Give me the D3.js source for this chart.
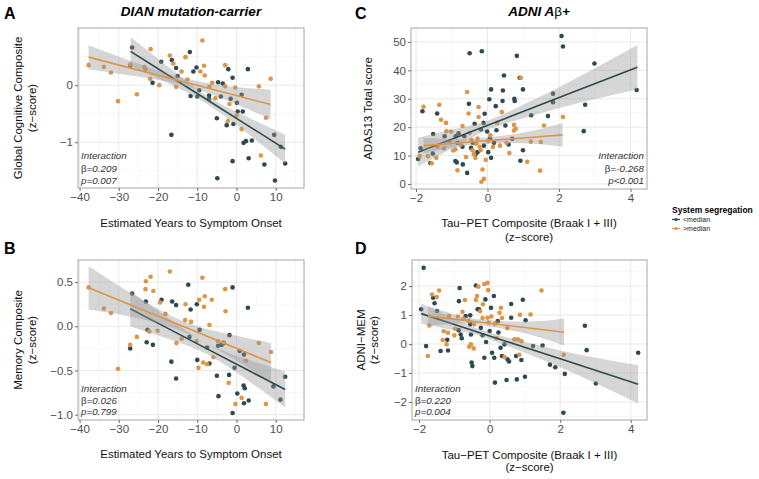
<!DOCTYPE html>
<html><head><meta charset="utf-8">
<script src="https://cdn.jsdelivr.net/npm/d3@7"></script>
<style>
body{margin:0;background:#fff;}
svg{display:block;font-family:"Liberation Sans",Arial,Helvetica,sans-serif;}
</style></head>
<body>
<svg id="chart" width="759" height="479"></svg>
<script>
// ---------- data ----------
const groupNames = ["<median", ">median"];
const legendTitle = "System segregation";

// Panel A: DIAN, Global Cognitive Composite vs EYO
const dianGlobalLow = [[-26.6,0.66],[-27.1,0.34],[-19.2,0.41],[-21.4,0.04],[-16.5,0.44],[-15.4,0.30],[-11.9,0.58],[-11.0,0.24],[-10.2,0.31],[-15.0,0.16],[-16.6,-0.87],[-11.7,-0.19],[-10.0,-0.20],[-9.5,-0.09],[-7.0,-0.18],[-7.0,-0.24],[-4.7,0.05],[-3.5,0.03],[-4.0,-0.20],[-2.1,0.28],[-1.0,0.13],[0.1,-0.31],[1.3,-0.17],[0.3,-0.46],[2.9,0.28],[-5.0,-0.58],[-2.5,-0.70],[-0.8,-0.68],[1.6,-0.46],[1.8,-1.01],[2.4,-0.98],[3.9,-0.97],[-1.0,-1.33],[3.1,-1.28],[7.1,-1.39],[9.6,-0.87],[11.3,-1.08],[12.4,-1.37],[-4.9,-1.63],[9.8,-1.67],[-1.5,-0.24]];
const dianGlobalHigh = [[-37.7,0.35],[-33.8,0.32],[-32.0,0.22],[-30.2,-0.28],[-25.4,-0.16],[-21.9,0.63],[-27.1,0.36],[-23.2,0.28],[-22.0,0.11],[-19.7,0.0],[-17.0,0.52],[-16.1,0.38],[-14.0,0.24],[-13.0,0.49],[-15.4,-0.03],[-8.7,0.78],[-8.3,0.34],[-9.2,0.24],[-8.1,0.17],[-6.2,0.04],[-6.9,-0.03],[-2.9,0.35],[-2.9,-0.02],[-0.3,-0.04],[-1.8,-0.33],[-2.2,-0.63],[1.3,-0.77],[0.0,-0.53],[5.7,-0.02],[8.7,0.11],[7.5,-0.57],[6.2,-1.23],[-5.4,-0.23],[-23.5,0.32],[-12.5,0.10]];
// fit rows: [x, fit, lower, upper]
const dianGlobalLowFit = [[-27,0.59,0.34,0.84],[-17,0.156,0.02,0.30],[-7.5,-0.256,-0.33,-0.19],[2.5,-0.69,-0.83,-0.55],[12.4,-1.12,-1.37,-0.87]];
const dianGlobalHighFit = [[-37.7,0.49,0.28,0.70],[-26,0.28,0.16,0.40],[-15,0.084,0.02,0.15],[-3,-0.13,-0.25,-0.01],[8.7,-0.34,-0.60,-0.08]];

// Panel B: DIAN, Memory Composite vs EYO
const dianMemLow = [[-27.1,-0.25],[-26.6,0.37],[-23.1,0.28],[-22.7,-0.04],[-22.9,-0.18],[-21.3,-0.21],[-19.1,0.30],[-16.4,0.28],[-15.4,0.24],[-12.3,0.47],[-11.7,0.19],[-10.1,0.25],[-16.6,-0.40],[-15.4,-0.59],[-9.4,-0.04],[-10.0,-0.38],[-6.9,-0.42],[-4.7,-0.22],[-3.8,-0.21],[-3.2,-0.19],[-1.8,-0.10],[-1.0,0.44],[0.8,-0.28],[-0.5,-0.47],[1.9,-0.32],[2.9,0.21],[-5.0,-0.56],[-4.6,-0.79],[-1.9,-0.55],[0.2,-0.76],[1.8,-0.67],[2.1,-0.70],[1.9,-0.87],[3.1,-0.84],[-1.0,-0.98],[9.4,-0.68],[11.2,-0.83],[12.4,-0.57],[-12.0,-0.12],[-7.5,-0.24]];
const dianMemHigh = [[-37.7,0.44],[-33.8,0.20],[-32.0,0.15],[-30.2,-0.48],[-27.1,-0.21],[-25.4,-0.12],[-23.1,0.51],[-23.2,0.42],[-21.9,0.56],[-21.2,0.40],[-19.5,0.27],[-18.1,0.14],[-17.0,0.62],[-15.3,-0.19],[-14.0,-0.14],[-13.0,0.25],[-13.1,0.07],[-11.6,0.05],[-10.2,-0.17],[-9.7,-0.47],[-9.5,0.30],[-8.7,0.55],[-8.3,0.22],[-8.1,0.34],[-6.9,0.015],[-6.3,0.30],[-5.9,-0.35],[-8.5,-0.41],[-4.7,-0.17],[-2.9,0.42],[-2.8,0.17],[-3.3,-0.18],[-2.0,-0.64],[-0.3,-0.88],[1.3,-0.81],[2.4,-0.39],[5.7,-0.19],[8.8,-0.29],[7.5,-0.88],[-20.1,-0.05],[-22.2,-0.06],[-7.5,-0.43]];
const dianMemLowFit = [[-27.1,0.198,0.0,0.40],[-17,-0.035,-0.15,0.08],[-7.5,-0.255,-0.315,-0.195],[2.5,-0.486,-0.60,-0.37],[12.4,-0.715,-0.92,-0.51]];
const dianMemHighFit = [[-37.7,0.436,0.19,0.68],[-26,0.223,0.10,0.35],[-14,0.005,-0.055,0.065],[-3,-0.195,-0.31,-0.08],[8.8,-0.41,-0.63,-0.19]];

// Panel C: ADNI, ADAS13 vs Tau-PET
const adniAdasLow = [[-1.94,8.8],[-1.87,12.6],[-1.82,25.6],[-1.60,7.4],[-1.53,10.7],[-1.52,17.6],[-1.41,24.8],[-1.20,16.8],[-0.90,8.1],[-0.86,7.6],[-0.69,6.9],[-0.81,17.8],[-0.84,14.5],[-0.70,13.1],[-0.57,3.9],[-0.52,28.2],[-0.50,46.0],[-0.16,46.7],[-0.46,12.7],[-0.36,21.2],[-0.28,11.2],[-0.18,19.2],[-0.11,21.5],[-0.10,13.5],[-0.01,18.5],[0.02,11.2],[0.07,16.0],[0.10,33.3],[0.10,9.2],[0.05,29.8],[0.23,27.4],[0.25,18.9],[0.43,32.9],[0.42,29.2],[0.46,38.2],[0.50,20.6],[0.59,13.9],[0.69,15.9],[0.75,30.0],[0.76,29.2],[0.82,45.1],[0.90,37.4],[0.99,33.3],[0.99,11.9],[0.92,8.2],[1.22,24.2],[1.69,23.9],[1.83,31.8],[1.83,28.8],[2.07,52.1],[2.11,48.4],[2.69,18.6],[2.73,27.9],[2.99,42.4],[4.17,33.1],[-0.41,14.5],[-0.08,24.7],[-0.33,10.6],[-0.65,16.8],[0.18,14.5],[-0.89,16.8]];
const adniAdasHigh = [[-1.79,27.2],[-1.90,9.8],[-1.67,9.8],[-1.56,7.3],[-1.43,9.2],[-1.35,27.9],[-1.30,22.6],[-1.22,12.5],[-1.16,21.5],[-1.15,18.6],[-1.02,18.5],[-0.96,11.8],[-0.84,4.8],[-0.70,20.4],[-0.57,32.4],[-0.53,24.8],[-0.50,18.0],[-0.42,11.9],[-0.38,10.5],[-0.34,9.2],[-0.32,14.2],[-0.25,27.1],[-0.25,23.6],[-0.22,13.1],[-0.19,11.9],[-0.17,0.8],[-0.10,1.8],[-0.14,5.1],[0.02,15.1],[0.08,17.1],[0.27,21.5],[0.40,25.3],[0.53,14.5],[0.61,10.9],[0.74,20.8],[0.74,18.8],[0.79,19.4],[0.93,37.4],[1.11,7.8],[1.21,14.9],[1.47,4.7],[1.49,14.8],[1.58,20.6],[2.11,23.6],[-1.05,15.0],[-0.75,13.8],[-0.6,9.5],[-0.45,15.5],[-0.28,16.0],[0.15,13.0],[0.35,13.5],[-0.9,12.2],[-1.4,13.2],[-0.05,8.5]];
const adniAdasLowFit = [[-1.94,11.2,6.2,16.3],[-0.5,18.2,15.8,20.6],[0.3,22.1,20.4,23.8],[2.2,31.4,27.4,35.4],[4.19,41.1,33.3,48.9]];
const adniAdasHighFit = [[-1.79,13.5,10.8,16.2],[-0.9,14.4,12.9,15.9],[-0.2,15.1,14.0,16.2],[1.0,16.2,14.3,18.1],[2.10,17.3,13.1,21.5]];

// Panel D: ADNI, ADNI-MEM vs Tau-PET
const adniMemLow = [[-1.87,2.63],[-1.94,1.20],[-1.80,-0.07],[-1.60,1.60],[-1.56,1.41],[-1.49,1.14],[-1.39,-0.24],[-1.18,-0.22],[-0.87,1.48],[-0.85,1.93],[-0.88,0.48],[-0.82,0.33],[-0.79,0.20],[-0.68,0.97],[-0.55,0.99],[-0.55,0.68],[-0.53,0.33],[-0.51,-0.64],[-0.49,-0.76],[-0.39,2.02],[-0.34,1.20],[-0.30,1.20],[-0.25,0.56],[-0.12,1.54],[-0.10,0.07],[-0.15,-0.47],[0.04,1.25],[0.12,1.66],[0.07,-0.30],[0.15,-1.33],[0.13,-0.47],[0.23,0.79],[0.31,-0.13],[0.35,-0.41],[0.42,-0.01],[0.48,-1.24],[0.51,-0.53],[0.61,1.38],[0.61,0.91],[0.75,-0.41],[0.77,-1.22],[0.94,1.53],[1.00,-1.13],[1.02,0.82],[1.23,-0.07],[1.71,-0.71],[1.86,-0.80],[2.13,-1.03],[2.09,-2.37],[2.70,0.63],[2.75,-0.21],[3.01,-1.36],[4.21,-0.30],[-0.2,0.30],[0.0,0.45],[0.25,0.40],[0.55,-0.60],[0.9,-0.55],[1.5,-0.05],[-1.2,0.15]];
const adniMemHigh = [[-1.75,-0.41],[-1.71,0.64],[-1.63,1.71],[-1.50,1.62],[-1.43,1.85],[-1.33,0.14],[-1.30,0.44],[-1.22,-0.01],[-1.18,0.39],[-1.15,0.97],[-0.98,0.53],[-0.77,1.11],[-0.74,0.87],[-0.70,1.52],[-0.58,-0.09],[-0.53,-0.01],[-0.44,0.68],[-0.39,1.52],[-0.36,1.66],[-0.32,1.98],[-0.27,1.13],[-0.19,1.37],[-0.15,2.07],[-0.06,2.11],[-0.04,1.86],[-0.06,0.91],[-0.03,0.74],[0.15,0.70],[0.28,1.08],[0.32,1.25],[0.42,-0.45],[0.70,0.16],[0.80,0.16],[0.86,1.01],[0.84,-0.37],[1.16,1.02],[1.47,1.85],[2.10,-0.37],[-0.6,0.80],[-0.9,0.95],[-0.2,0.9],[0.05,0.95],[0.5,0.55],[-0.45,-0.15],[0.2,0.2],[-1.0,0.3],[0.35,0.9],[0.9,0.1]];
const adniMemLowFit = [[-1.94,1.05,0.70,1.40],[-0.8,0.60,0.43,0.77],[0,0.28,0.16,0.40],[2,-0.51,-0.80,-0.22],[4.21,-1.39,-2.05,-0.73]];
const adniMemHighFit = [[-1.75,0.97,0.63,1.31],[-1.0,0.86,0.70,1.02],[-0.3,0.76,0.66,0.86],[1.0,0.57,0.37,0.77],[2.11,0.41,-0.06,0.88]];

// tick labels
const eyoTicks = [-40,-30,-20,-10,0,10];
const tauTicks = [-2,0,2,4];
const globalTicks = [-1,0];
const memTicks = [-1.0,-0.5,0.0,0.5];
const adasTicks = [0,10,20,30,40,50];
const adniMemTicks = [-2,-1,0,1,2];

// ---------- styling / layout ----------
const COL_LOW = "#2f4a4f", COL_HIGH = "#de9546";
const svg = d3.select("#chart");

const panels = [
  {letter:"A", lx:4, ly:19, box:[78,304,28,188], xd:[-40.4,17.2], yd:[-1.80,1.0],
   xt:eyoTicks, yt:globalTicks, xminor:[-35,-25,-15,-5,5,15], yminor:[-1.5,-0.5,0.5], yfmt:d3.format("d"),
   low:dianGlobalLow, high:dianGlobalHigh, lowFit:dianGlobalLowFit, highFit:dianGlobalHighFit,
   ytitle:["Global Cognitive Composite","(z−score)"], ytx:[22,36], xtitle:["Estimated Years to Symptom Onset"], xty:[227],
   stats:["Interaction","0.209","p=0.007"], statsX:81, statsAnchor:"start", statsY:[159,171.5,183.5]},
  {letter:"B", lx:4, ly:254, box:[78,304,260,420], xd:[-40.4,17.2], yd:[-1.06,0.75],
   xt:eyoTicks, yt:memTicks, xminor:[-35,-25,-15,-5,5,15], yminor:[-0.75,-0.25,0.25], yfmt:d3.format(".1f"),
   low:dianMemLow, high:dianMemHigh, lowFit:dianMemLowFit, highFit:dianMemHighFit,
   ytitle:["Memory Composite","(z−score)"], ytx:[22,36], xtitle:["Estimated Years to Symptom Onset"], xty:[458],
   stats:["Interaction","0.026","p=0.799"], statsX:81, statsAnchor:"start", statsY:[392,404,415]},
  {letter:"C", lx:355, ly:19, box:[411,647,28,189], xd:[-2.14,4.46], yd:[-1.76,54.9],
   xt:tauTicks, yt:adasTicks, xminor:[-1,1,3], yminor:[5,15,25,35,45], yfmt:d3.format("d"),
   low:adniAdasLow, high:adniAdasHigh, lowFit:adniAdasLowFit, highFit:adniAdasHighFit,
   ytitle:["ADAS13 Total score"], ytx:[372], xtitle:["Tau−PET Composite (Braak I + III)","(z−score)"], xty:[227,241],
   stats:["Interaction","-0.268","p<0.001"], statsX:644, statsAnchor:"end", statsY:[159,171.5,183.5]},
  {letter:"D", lx:355, ly:254, box:[412,647,260,420], xd:[-2.2,4.46], yd:[-2.62,2.9],
   xt:tauTicks, yt:adniMemTicks, xminor:[-1,1,3], yminor:[-2.5,-1.5,-0.5,0.5,1.5,2.5], yfmt:d3.format("d"),
   low:adniMemLow, high:adniMemHigh, lowFit:adniMemLowFit, highFit:adniMemHighFit,
   ytitle:["ADNI−MEM","(z−score)"], ytx:[365,378], xtitle:["Tau−PET Composite (Braak I + III)","(z−score)"], xty:[459,471],
   stats:["Interaction","0.220","p=0.004"], statsX:415, statsAnchor:"start", statsY:[392,404,415]}
];

panels.forEach(p => {
  const [x0,x1,y0,y1] = p.box;
  const x = d3.scaleLinear().domain(p.xd).range([x0,x1]);
  const y = d3.scaleLinear().domain(p.yd).range([y1,y0]);
  const g = svg.append("g");
  const clipId = "clip"+p.letter;
  svg.append("clipPath").attr("id",clipId).append("rect").attr("x",x0).attr("y",y0).attr("width",x1-x0).attr("height",y1-y0);

  // grid
  const grid = g.append("g");
  p.xminor.forEach(v => { if (v>p.xd[0] && v<p.xd[1]) grid.append("line").attr("x1",x(v)).attr("x2",x(v)).attr("y1",y0).attr("y2",y1).attr("stroke","#f0f0f0").attr("stroke-width",0.5); });
  p.yminor.forEach(v => { if (v>p.yd[0] && v<p.yd[1]) grid.append("line").attr("y1",y(v)).attr("y2",y(v)).attr("x1",x0).attr("x2",x1).attr("stroke","#f0f0f0").attr("stroke-width",0.5); });
  p.xt.forEach(v => grid.append("line").attr("x1",x(v)).attr("x2",x(v)).attr("y1",y0).attr("y2",y1).attr("stroke","#e6e6e6").attr("stroke-width",0.9));
  p.yt.forEach(v => grid.append("line").attr("y1",y(v)).attr("y2",y(v)).attr("x1",x0).attr("x2",x1).attr("stroke","#e6e6e6").attr("stroke-width",0.9));

  const plot = g.append("g").attr("clip-path",`url(#${clipId})`);
  // points
  [[p.low,COL_LOW],[p.high,COL_HIGH]].forEach(([data,col]) => {
    plot.selectAll(null).data(data).enter().append("circle")
      .attr("cx",d=>x(d[0])).attr("cy",d=>y(d[1])).attr("r",2.3).attr("fill",col);
  });
  // ribbons + lines
  const area = d3.area().x(d=>x(d[0])).y0(d=>y(d[2])).y1(d=>y(d[3])).curve(d3.curveNatural);
  const line = d3.line().x(d=>x(d[0])).y(d=>y(d[1]));
  [[p.lowFit,COL_LOW],[p.highFit,COL_HIGH]].forEach(([fit,col]) => {
    plot.append("path").attr("d",area(fit)).attr("fill","#999999").attr("fill-opacity",0.4);
    plot.append("path").attr("d",line(fit)).attr("fill","none").attr("stroke",col).attr("stroke-width",1.6);
  });

  // border
  g.append("rect").attr("x",x0).attr("y",y0).attr("width",x1-x0).attr("height",y1-y0)
    .attr("fill","none").attr("stroke","#a6a6a6").attr("stroke-width",1);

  // axes
  const ax = g.append("g").attr("transform",`translate(0,${y1})`)
    .call(d3.axisBottom(x).tickValues(p.xt).tickSize(3).tickPadding(2).tickFormat(d3.format("d")));
  const ay = g.append("g").attr("transform",`translate(${x0},0)`)
    .call(d3.axisLeft(y).tickValues(p.yt).tickSize(3).tickPadding(2).tickFormat(p.yfmt));
  [ax,ay].forEach(a => {
    a.select(".domain").remove();
    a.selectAll(".tick line").attr("stroke","#4d4d4d").attr("stroke-width",0.8);
    a.selectAll(".tick text").attr("fill","#4d4d4d").attr("font-size",11.5)
      .attr("font-family","'Liberation Sans',Arial,sans-serif");
  });

  // panel letter
  svg.append("text").attr("x",p.lx).attr("y",p.ly).text(p.letter)
    .attr("font-size",16).attr("font-weight","bold").attr("fill","#000");

  // axis titles
  const cy = (y0+y1)/2, cx = (x0+x1)/2;
  p.ytitle.forEach((t,i) => {
    svg.append("text").attr("transform",`translate(${p.ytx[i]},${cy}) rotate(-90)`)
      .attr("text-anchor","middle").attr("font-size",11.5).attr("fill","#111").text(t);
  });
  p.xtitle.forEach((t,i) => {
    svg.append("text").attr("x",cx).attr("y",p.xty[i]).attr("text-anchor","middle")
      .attr("font-size",11.5).attr("fill","#111").text(t);
  });

  // interaction stats
  const st = svg.append("g").attr("font-size",9.8).attr("fill","#333").attr("font-style","italic").attr("text-anchor",p.statsAnchor);
  st.append("text").attr("x",p.statsX).attr("y",p.statsY[0]).text(p.stats[0]);
  const b = st.append("text").attr("x",p.statsX).attr("y",p.statsY[1]);
  b.append("tspan").attr("font-style","normal").text("β=");
  b.append("tspan").text(p.stats[1]);
  st.append("text").attr("x",p.statsX).attr("y",p.statsY[2]).text(p.stats[2]);
});

// column titles
svg.append("text").attr("x",191).attr("y",16).attr("text-anchor","middle")
  .attr("font-size",13.5).attr("font-weight","bold").attr("font-style","italic").text("DIAN mutation-carrier");
const t2 = svg.append("text").attr("x",539).attr("y",16).attr("text-anchor","middle")
  .attr("font-size",13.5).attr("font-weight","bold").attr("font-style","italic");
t2.append("tspan").text("ADNI A");
t2.append("tspan").attr("font-weight","normal").attr("font-style","normal").text("β");
t2.append("tspan").text("+");

// legend
const lg = svg.append("g");
lg.append("text").attr("x",672).attr("y",213).attr("font-size",8.5).attr("font-weight","bold").text(legendTitle);
[COL_LOW,COL_HIGH].forEach((c,i) => {
  const yy = 222 + i*9 - 2.5;
  lg.append("line").attr("x1",672).attr("x2",680).attr("y1",yy).attr("y2",yy).attr("stroke",c).attr("stroke-width",1.3);
  lg.append("circle").attr("cx",676).attr("cy",yy).attr("r",1.6).attr("fill",c);
  lg.append("text").attr("x",683).attr("y",222+i*9).attr("font-size",7).attr("fill","#222").text(groupNames[i]);
});
</script>
</body></html>
